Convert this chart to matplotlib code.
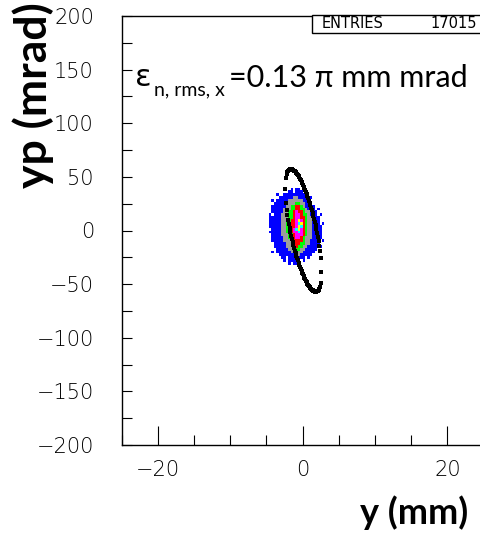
import numpy as np
import matplotlib
matplotlib.use("Agg")
import matplotlib.pyplot as plt
from matplotlib.colors import ListedColormap, BoundaryNorm
from matplotlib.patches import Rectangle
from matplotlib.ticker import MultipleLocator

# y-yp phase space histogram.
# one character per bin: '.' empty, 1..7 = colour level of the bin content
hist_rows = [
    ".........1.11..........",
    "........11.111.1.......",
    "...1..1111111111.......",
    "....111111221111.1.....",
    ".1.11111222222111......",
    "..1111112223322111.....",
    ".111111223344321111....",
    ".111112223344332111.1..",
    ".1111122334544322111...",
    "1.111222334554332111.1.",
    "111112223345544322111..",
    "111112233445754322111..",
    "111112233445674322111.1",
    "1111122334457643221111.",
    ".111122334567543221111.",
    "1111122334556543221111.",
    ".111122233455543221111.",
    ".111112233455432221111.",
    ".11111222344443221111.1",
    "..1111122334433221111..",
    "..111112223433221111.1.",
    "...11111223332211111...",
    ".1.1111112222211111....",
    "....11111112211111.....",
    ".....11.1111111.1......",
    "......1.11111.1........",
    "........1.11...........",
]
x_first_edge = -14 / 3   # mm
x_bin = 1 / 3            # mm
y_first_edge = 40.0      # mrad (top row)
y_bin = 8 / 3            # mrad
level_colors = ["#0000ff", "#9c9c9c", "#00ff00", "#ff0000",
                "#ff00ff", "#00ffff", "#ffff00"]

# matched ellipse (Twiss parameters)
twiss_alpha = 0.93
twiss_beta = 0.0598      # mm/mrad
ellipse_emit = 104.5     # mm mrad
ellipse_x0 = 0.1         # mm
n_ellipse = 50

entries = 17015
emit_sym = "ε"
emit_sub = "n, rms, x"
emit_val = "=0.13 π mm mrad"

FAM = ["Lato", "DejaVu Sans"]
plt.rcParams["font.family"] = FAM

W, H = 481, 533
fig = plt.figure(figsize=(W / 100, H / 100), dpi=100)
ax = fig.add_axes([121.7 / W, 88 / H, 361.9 / W, 429 / H])

# histogram
levels = np.array([[0 if c == "." else int(c) for c in row] for row in hist_rows])
ny, nx = levels.shape
xe = x_first_edge + x_bin * np.arange(nx + 1)
ye = y_first_edge - y_bin * np.arange(ny + 1)
cmap = ListedColormap(level_colors)
norm = BoundaryNorm(np.arange(0.5, len(level_colors) + 1), cmap.N)
ax.pcolormesh(xe, ye, np.ma.masked_equal(levels, 0), cmap=cmap, norm=norm,
              shading="flat", zorder=2)

# ellipse, sampled uniformly in y
xm = np.sqrt(twiss_beta * ellipse_emit)
xx = np.linspace(-xm, xm, n_ellipse)
root = np.sqrt(np.clip(twiss_beta * ellipse_emit - xx ** 2, 0, None))
for sgn in (1, -1):
    yp = (-twiss_alpha * xx + sgn * root) / twiss_beta
    ax.plot(xx + ellipse_x0, yp, "s", color="black", ms=3.2, mew=0, zorder=3)

ax.set_xlim(-25, 25)
ax.set_ylim(-200, 200)
ax.set_xticks([-20, 0, 20])
ax.xaxis.set_minor_locator(MultipleLocator(5))
ax.yaxis.set_major_locator(MultipleLocator(50))
ax.yaxis.set_minor_locator(MultipleLocator(25))
ax.tick_params(which="both", direction="in", top=False, right=False,
               width=0.8, colors="black")
ax.tick_params(axis="x", which="major", length=14, pad=11, labelsize=15)
ax.tick_params(axis="x", which="minor", length=7)
ax.tick_params(axis="y", which="both", length=7)
ax.tick_params(axis="y", which="major", pad=20, labelsize=15)
for lab in ax.get_xticklabels() + ax.get_yticklabels():
    lab.set_family("DejaVu Sans")
    lab.set_fontweight("light")
for s in ax.spines.values():
    s.set_linewidth(1.0)

# axis titles, ROOT style at the axis ends
fig.text(468 / W, 1 - 513 / H, "y (mm)", ha="right", va="center",
         fontsize=26, fontweight="bold")
fig.text(33 / W, 1 - 2 / H, "yp (mrad)", ha="center", va="top",
         rotation=90, fontsize=32, fontweight="bold")

# emittance label: symbol, subscript, value chained one after the other
t1 = ax.text(-23.1, 135, emit_sym, fontsize=22, va="baseline", ha="left",
             family=["DejaVu Sans"], zorder=5)
t2 = ax.annotate(emit_sub, xy=(1, 0), xycoords=t1, xytext=(1.5, -5),
                 textcoords="offset points", fontsize=14, va="bottom", ha="left")
t3 = ax.annotate(emit_val, xy=(1, 0), xycoords=(t2, t1), xytext=(3, 0),
                 textcoords="offset points", fontsize=22, va="bottom", ha="left")

# stats box
bx0, by0 = 312 / W, 1 - 33 / H
fig.patches.append(Rectangle((bx0, by0), 1.0, 18 / H, transform=fig.transFigure,
                             facecolor="white", edgecolor="black", lw=1.0,
                             zorder=5))
fig.text(322 / W, 1 - 24 / H, "ENTRIES", ha="left", va="center", fontsize=10.5,
         family=["Liberation Sans Narrow", "DejaVu Sans"], zorder=6)
fig.text(477 / W, 1 - 24 / H, str(entries), ha="right", va="center", fontsize=10.5,
         family=["Liberation Sans Narrow", "DejaVu Sans"], zorder=6)

fig.savefig("out.png", dpi=100)
